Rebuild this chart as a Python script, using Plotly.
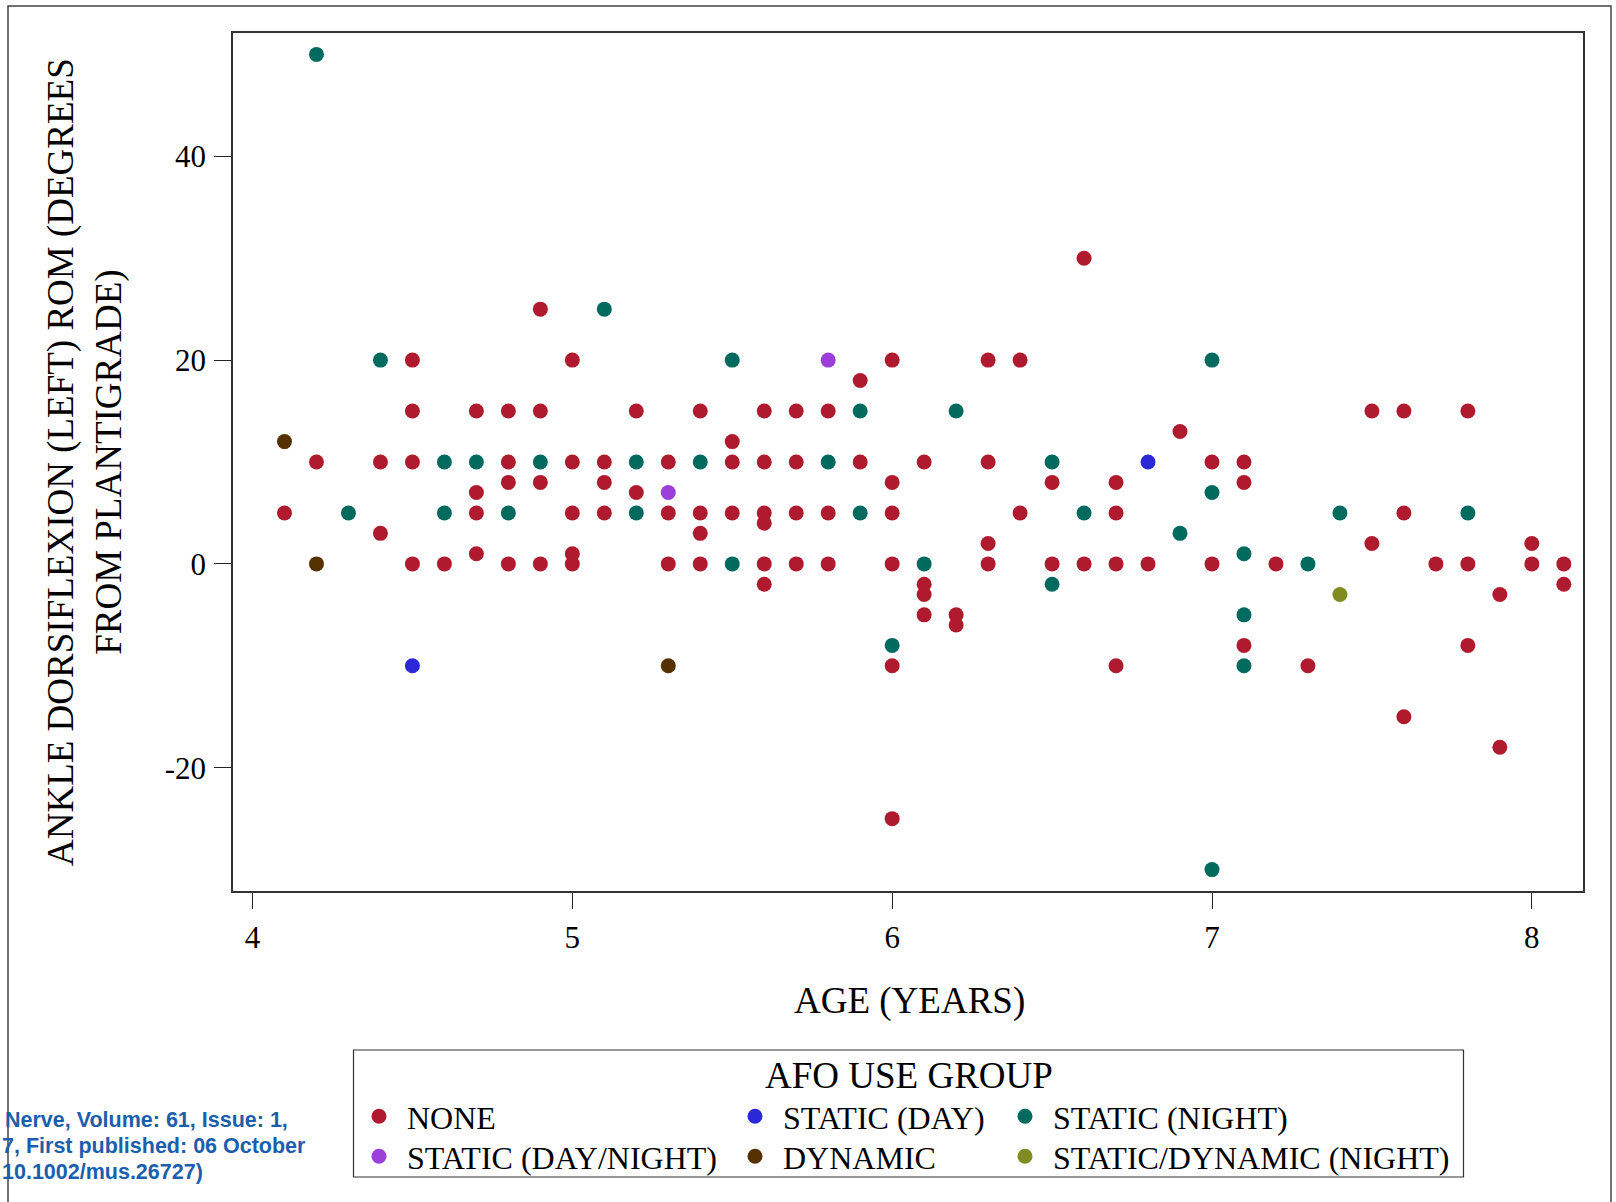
import plotly.graph_objects as go

# ---- data (age in years, ankle dorsiflexion ROM in degrees) ----
none_age = [4.1, 4.2, 4.4, 4.4, 4.5, 4.5, 4.5, 4.5, 4.6,
            4.7, 4.7, 4.7, 4.7, 4.8, 4.8, 4.8, 4.8, 4.9, 4.9, 4.9, 4.9,
            5.0, 5.0, 5.0, 5.0, 5.0, 5.1, 5.1, 5.1, 5.2, 5.2, 5.3, 5.3, 5.3,
            5.4, 5.4, 5.4, 5.4, 5.5, 5.5, 5.5, 5.6, 5.6, 5.6, 5.6, 5.6, 5.6,
            5.7, 5.7, 5.7, 5.7, 5.8, 5.8, 5.8, 5.9, 5.9,
            6.0, 6.0, 6.0, 6.0, 6.0, 6.0, 6.1, 6.1, 6.1, 6.1, 6.2, 6.2,
            6.3, 6.3, 6.3, 6.3, 6.4, 6.4, 6.5, 6.5, 6.6, 6.6,
            6.7, 6.7, 6.7, 6.7, 6.8, 6.9, 7.0, 7.0, 7.1, 7.1, 7.1, 7.2, 7.3,
            7.5, 7.5, 7.6, 7.6, 7.6, 7.7, 7.8, 7.8, 7.8, 7.9, 7.9,
            8.0, 8.0, 8.1, 8.1]
none_rom = [5, 10, 10, 3, 20, 15, 10, 0, 0,
            15, 7, 5, 1, 15, 10, 8, 0, 25, 15, 8, 0,
            20, 10, 5, 1, 0, 10, 8, 5, 15, 7, 10, 5, 0,
            15, 5, 3, 0, 12, 10, 5, 15, 10, 5, 4, 0, -2,
            15, 10, 5, 0, 15, 5, 0, 18, 10,
            20, 8, 5, 0, -10, -25, 10, -2, -3, -5, -5, -6,
            20, 10, 2, 0, 20, 5, 8, 0, 30, 0,
            8, 5, 0, -10, 0, 13, 10, 0, 10, 8, -8, 0, -10,
            15, 2, 15, 5, -15, 0, 15, 0, -8, -3, -18,
            2, 0, 0, -2]

day_age = [4.5, 6.8]
day_rom = [-10, 10]

night_age = [4.2, 4.3, 4.4, 4.6, 4.6, 4.7, 4.8, 4.9, 5.1, 5.2, 5.2, 5.4,
             5.5, 5.5, 5.8, 5.9, 5.9, 6.0, 6.1, 6.2, 6.5, 6.5, 6.6,
             6.9, 7.0, 7.0, 7.0, 7.1, 7.1, 7.1, 7.3, 7.4, 7.8]
night_rom = [50, 5, 20, 10, 5, 10, 5, 10, 25, 10, 5, 10,
             20, 0, 10, 15, 5, -8, 0, 15, 10, -2, 5,
             3, 20, 7, -30, 1, -5, -10, 0, 5, 5]

daynight_age = [5.3, 5.8]
daynight_rom = [7, 20]

dynamic_age = [4.1, 4.2, 5.3]
dynamic_rom = [12, 0, -10]

statdyn_age = [7.4]
statdyn_rom = [-3]

# name, x, y, colour, legend id, legend column marker x (px), legend row centre y (px)
groups = [
    ("NONE", none_age, none_rom, "#b01a2e", "legend", 379, 1118),
    ("STATIC (DAY)", day_age, day_rom, "#2b28d8", "legend2", 755, 1118),
    ("STATIC (NIGHT)", night_age, night_rom, "#016a5e", "legend3", 1025, 1118),
    ("STATIC (DAY/NIGHT)", daynight_age, daynight_rom, "#9c3fd9", "legend4", 379, 1158),
    ("DYNAMIC", dynamic_age, dynamic_rom, "#553000", "legend5", 755, 1158),
    ("STATIC/DYNAMIC (NIGHT)", statdyn_age, statdyn_rom, "#808c1f", "legend6", 1025, 1158),
]

x_ticks = [4, 5, 6, 7, 8]
y_ticks = [-20, 0, 20, 40]
y_ticktext = ["-20", "0", "20", "40"]

SERIF = "Liberation Serif, Times New Roman, serif"

W, H = 1616, 1202
L, T = 233, 33
R = W - 1583
B = H - 891
PW = W - L - R
PH = H - T - B


def px(xpix):
    return (xpix - L) / PW


def py(ypix):
    return (H - B - ypix) / PH


fig = go.Figure()
for name, xs, ys, col, leg, _, _ in groups:
    fig.add_trace(go.Scatter(
        x=xs, y=ys, mode="markers", name=name, legend=leg,
        marker=dict(size=15, color=col, line=dict(width=0)),
    ))

LEG_FONT = 32
ITEMW = 46
legend_common = dict(
    orientation="v", xanchor="left", yanchor="top",
    font=dict(family=SERIF, size=LEG_FONT, color="#000"),
    bgcolor="rgba(0,0,0,0)", borderwidth=0, tracegroupgap=0,
    itemsizing="trace", itemwidth=ITEMW,
)
legends = {}
for name, xs, ys, col, leg, mx, my in groups:
    legends[leg] = dict(x=px(mx - (ITEMW + 10) / 2), y=py(my - 29), **legend_common)

fig.update_layout(
    width=W, height=H,
    margin=dict(l=L, r=R, t=T, b=B, autoexpand=False),
    paper_bgcolor="white", plot_bgcolor="white",
    showlegend=True,
    **legends,
    xaxis=dict(
        range=[3.939, 8.160], tickvals=x_ticks, showgrid=False, zeroline=False,
        ticks="outside", ticklen=16, tickwidth=1, tickcolor="#222",
        showline=True, linecolor="#333", linewidth=2, mirror=True,
        tickfont=dict(family=SERIF, size=31, color="#000"),
        ticklabelstandoff=2,
    ),
    yaxis=dict(
        range=[-32.1, 52.1], tickvals=y_ticks, ticktext=y_ticktext,
        showgrid=False, zeroline=False,
        ticks="outside", ticklen=17, tickwidth=1, tickcolor="#222",
        showline=True, linecolor="#333", linewidth=1.5, mirror=True,
        tickfont=dict(family=SERIF, size=31, color="#000"),
        ticklabelstandoff=2,
    ),
)

annotations = [
    dict(text="AGE (YEARS)", x=px(909), y=py(1001), xref="paper", yref="paper",
         xanchor="center", yanchor="middle", showarrow=False,
         font=dict(family=SERIF, size=37, color="#000")),
    dict(text="ANKLE DORSIFLEXION (LEFT) ROM (DEGREES<br>FROM PLANTIGRADE)",
         x=px(85), y=py(462), xref="paper", yref="paper", textangle=-90,
         xanchor="center", yanchor="middle", showarrow=False, align="center",
         font=dict(family=SERIF, size=37, color="#000")),
    dict(text="AFO USE GROUP", x=px(909), y=py(1075), xref="paper", yref="paper",
         xanchor="center", yanchor="middle", showarrow=False,
         font=dict(family=SERIF, size=37, color="#000")),
]
cite_lines = [("Nerve, Volume: 61, Issue: 1,", 3, 1120),
              ("7, First published: 06 October", 0, 1146),
              ("10.1002/mus.26727)", 0, 1172)]
for txt, xl, yc in cite_lines:
    annotations.append(dict(
        text=txt, x=px(xl), y=py(yc), xref="paper", yref="paper",
        xanchor="left", yanchor="middle", showarrow=False,
        font=dict(family="Liberation Sans, Arial, sans-serif", size=21.5, color="#1b5eab",
                  weight="bold")))
fig.update_layout(annotations=annotations)

shapes = [
    # legend box
    dict(type="rect", xref="paper", yref="paper",
         x0=px(353.5), x1=px(1463.5), y0=py(1177), y1=py(1050),
         line=dict(color="#333", width=1.2), fillcolor="rgba(0,0,0,0)", layer="above"),
    # outer frame
    dict(type="rect", xref="paper", yref="paper",
         x0=px(8), x1=px(1611), y0=py(1215), y1=py(6),
         line=dict(color="#444", width=1.5), fillcolor="rgba(0,0,0,0)", layer="above"),
]
fig.update_layout(shapes=shapes)

fig.write_html(
    "out.html",
    config={"displayModeBar": False},
    post_script="document.body.style.margin='0';document.body.style.overflow='hidden';",
)
